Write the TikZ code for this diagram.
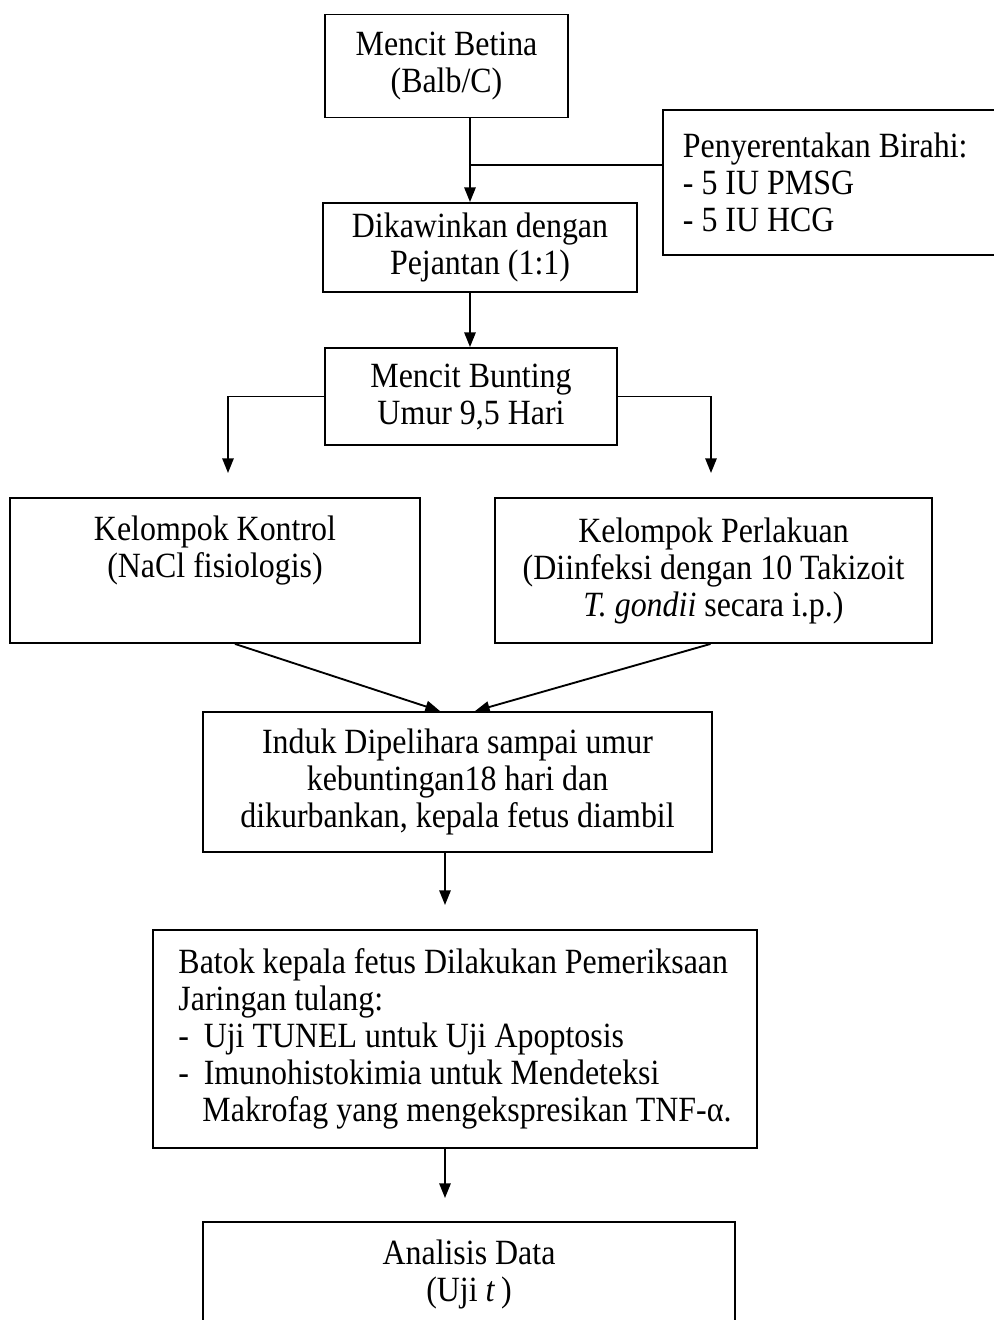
\documentclass[tikz,border=0pt]{standalone}
\usepackage{fontspec}
\setmainfont{Liberation Serif}[FakeStretch=0.9]
\usetikzlibrary{arrows.meta,calc}
\begin{document}
\begin{tikzpicture}[x=0.75pt,y=-0.75pt, line width=1.4pt,
  font=\fontsize{26.6}{27.75}\selectfont,
  box/.style={draw, rectangle, inner sep=0pt, align=center},
  lbox/.style={draw, rectangle, inner ysep=0pt, align=left},
  arr/.style={-{Triangle[length=11pt,width=8.5pt]}}]
\clip (0,0) rectangle (994,1320);
\fill[white] (0,0) rectangle (994,1320);

\node[box, minimum width=243*0.75pt, minimum height=103*0.75pt] (b1) at (446.5,66) {Mencit Betina\\(Balb/C)};
\node[lbox, inner xsep=15pt, minimum height=145*0.75pt, anchor=west] (bp) at (662,182.5) {Penyerentakan Birahi:\hspace*{45pt}\\- 5 IU PMSG\\- 5 IU HCG};
\node[box, minimum width=314*0.75pt, minimum height=89*0.75pt] (b2) at (480,247.5) {Dikawinkan dengan\\Pejantan (1:1)};
\node[box, minimum width=292*0.75pt, minimum height=97*0.75pt] (mb) at (471,396.5) {Mencit Bunting\\Umur 9,5 Hari};
\node[box, minimum width=410*0.75pt, minimum height=145*0.75pt] (k) at (215,570.5) {Kelompok Kontrol\\(NaCl fisiologis)\\\strut};
\node[box, minimum width=437*0.75pt, minimum height=145*0.75pt] (p) at (713.5,570.5) {Kelompok Perlakuan\\(Diinfeksi dengan 10 Takizoit\\\textit{T. gondii} secara i.p.)};
\node[box, minimum width=509*0.75pt, minimum height=140*0.75pt] (ind) at (457.5,782) {Induk Dipelihara sampai umur\\kebuntingan18 hari dan\\dikurbankan, kepala fetus diambil};
\node[lbox, inner xsep=0pt, minimum width=604*0.75pt, minimum height=218*0.75pt] (bt) at (455,1039) {Batok kepala fetus Dilakukan Pemeriksaan\\Jaringan tulang:\\\makebox[19pt][l]{-}Uji TUNEL untuk Uji Apoptosis\\\makebox[19pt][l]{-}Imunohistokimia untuk Mendeteksi\\\hspace*{18pt}Makrofag yang mengekspresikan TNF-α.};
\node[box, minimum width=532*0.75pt, minimum height=104*0.75pt] (an) at (469,1274) {Analisis Data\\(Uji \textit{t}\,)};

\coordinate (j1) at (470,165);
\draw[arr] (b1.south -| j1) -- (b2.north -| j1);
\draw (j1) -- (bp.west |- j1);
\draw[arr] (b2.south -| j1) -- (mb.north -| j1);

\coordinate (kt) at (228,473);
\coordinate (pt) at (711,473);
\draw[arr] (mb.west) -| (kt);
\draw[arr] (mb.east) -| (pt);

\draw[arr] ($(k.south)+(20,0)$) -- ($(ind.north)+(-17.5,0)$);
\draw[arr] ($(p.south)+(-3,0)$) -- ($(ind.north)+(17.5,0)$);

\coordinate (a3) at (445,905);
\draw[arr] (ind.south -| a3) -- (a3);
\coordinate (a4) at (445,1198);
\draw[arr] (bt.south -| a4) -- (a4);
\end{tikzpicture}
\end{document}
